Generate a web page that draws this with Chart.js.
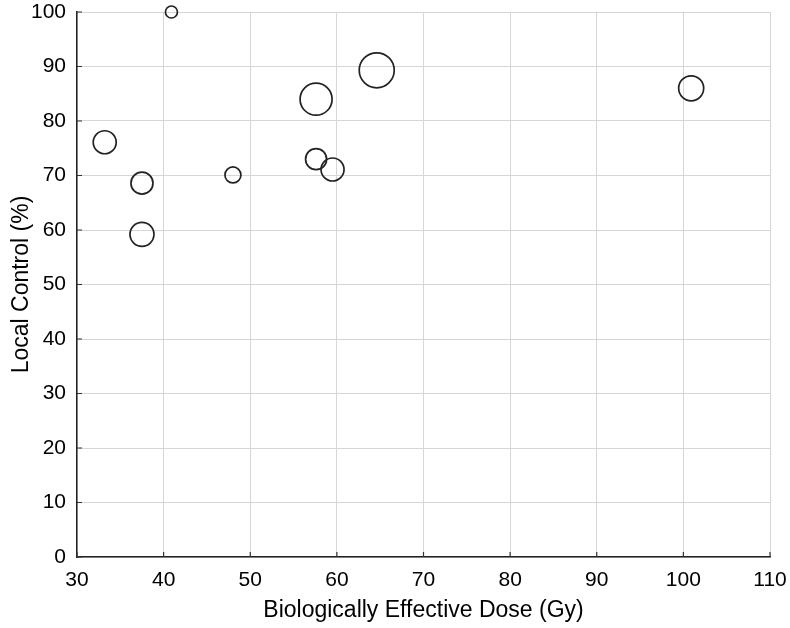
<!DOCTYPE html>
<html>
<head>
<meta charset="utf-8">
<script src="https://cdn.jsdelivr.net/npm/chart.js@4/dist/chart.umd.min.js"></script>
<style>
  html, body { margin: 0; padding: 0; background: #fff; }
  #chart { display: block; }
</style>
</head>
<body>
<canvas id="chart" width="790" height="628"></canvas>
<script>
// data
var bedValues = [40.9, 33.2, 37.5, 37.5, 48.0, 57.6, 57.6, 59.5, 64.6, 100.9];
var localControl = [100, 76.1, 68.6, 59.2, 70.1, 84.0, 73.0, 71.1, 89.3, 86.0];
var bubbleSize = [6, 11.5, 11, 12, 8, 16, 10.5, 11.5, 17.5, 12.5];
var xTicks = [30, 40, 50, 60, 70, 80, 90, 100, 110];
var yTicks = [0, 10, 20, 30, 40, 50, 60, 70, 80, 90, 100];

var fontFamily = "'Liberation Sans', Arial, Helvetica, sans-serif";

function buildPoints () {
  var pts = [];
  for (var i = 0; i < bedValues.length; i++) {
    pts.push({ x: bedValues[i], y: localControl[i], r: bubbleSize[i] });
  }
  return pts;
}

// small inward tick marks on the two axis lines
var innerTicks = {
  id: 'innerTicks',
  afterDraw: function (chart) {
    var ctx = chart.ctx;
    var xs = chart.scales.x;
    var ys = chart.scales.y;
    var area = chart.chartArea;
    ctx.save();
    ctx.strokeStyle = '#333';
    ctx.lineWidth = 1.2;
    ctx.beginPath();
    for (var v of xTicks) {
      var px = xs.getPixelForValue(v);
      ctx.moveTo(px, area.bottom);
      ctx.lineTo(px, area.bottom - 5);
    }
    for (var w of yTicks) {
      var py = ys.getPixelForValue(w);
      ctx.moveTo(area.left, py);
      ctx.lineTo(area.left + 5, py);
    }
    ctx.stroke();
    ctx.restore();
  }
};

var ctx = document.getElementById('chart').getContext('2d');
new Chart(ctx, {
  type: 'bubble',
  data: {
    datasets: [{
      data: buildPoints(),
      backgroundColor: 'rgba(0,0,0,0)',
      borderColor: '#222',
      borderWidth: 1.7,
      hoverBorderWidth: 1.7,
      clip: false
    }]
  },
  options: {
    responsive: false,
    animation: false,
    events: [],
    layout: { autoPadding: false, padding: { top: 12, right: 20, bottom: 0, left: 0 } },
    plugins: { legend: { display: false }, tooltip: { enabled: false } },
    scales: {
      x: {
        type: 'linear',
        min: 30,
        max: 110,
        afterBuildTicks: function (s) { s.ticks = xTicks.map(function (v) { return { value: v }; }); },
        afterFit: function (s) {
          s.height = 71;
          s.paddingLeft = 0;
          s.paddingRight = 0;
        },
        ticks: { color: '#000', padding: 11, font: { family: fontFamily, size: 21 } },
        grid: { color: '#d6d6d6', lineWidth: 1, drawTicks: false },
        border: { display: true, color: '#222', width: 1.5 },
        title: {
          display: true,
          text: 'Biologically Effective Dose (Gy)',
          color: '#000',
          font: { family: fontFamily, size: 23 },
          padding: { top: 0, bottom: 4 }
        }
      },
      y: {
        type: 'linear',
        min: 0,
        max: 100,
        afterBuildTicks: function (s) { s.ticks = yTicks.map(function (v) { return { value: v }; }); },
        afterFit: function (s) {
          s.width = 77;
          s.paddingTop = 0;
          s.paddingBottom = 0;
        },
        ticks: { color: '#000', padding: 11, font: { family: fontFamily, size: 21 } },
        grid: { color: '#d6d6d6', lineWidth: 1, drawTicks: false },
        border: { display: true, color: '#222', width: 1.5 },
        title: {
          display: true,
          text: 'Local Control (%)',
          color: '#000',
          font: { family: fontFamily, size: 23 },
          padding: { top: 8, bottom: 0 }
        }
      }
    }
  },
  plugins: [innerTicks]
});
</script>
</body>
</html>
